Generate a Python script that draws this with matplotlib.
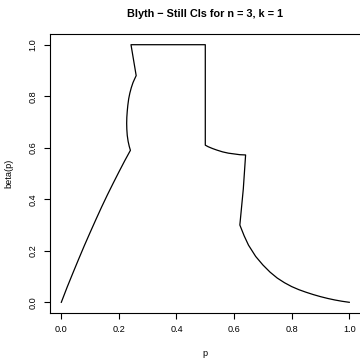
import matplotlib
matplotlib.use("Agg")
import matplotlib.pyplot as plt

plt.rcParams['font.family'] = ['Liberation Sans', 'DejaVu Sans']

title = "Blyth \u2212 Still CIs for n = 3, k = 1"
xlabel = "p"
ylabel = "beta(p)"
tick_vals = [0.0, 0.2, 0.4, 0.6, 0.8, 1.0]
tick_labels = ["0.0", "0.2", "0.4", "0.6", "0.8", "1.0"]

# rising branch
p_a = [0.0, 0.02, 0.04, 0.06, 0.08, 0.10, 0.12, 0.14, 0.16, 0.18, 0.20, 0.22, 0.24]
b_a = [0.0, 0.058, 0.113, 0.167, 0.220, 0.271, 0.321, 0.370, 0.417, 0.462, 0.506, 0.549, 0.590]
# bulging branch up to the kink
p_b = [0.236, 0.232, 0.229, 0.2275, 0.227, 0.2275, 0.229, 0.231, 0.234, 0.238,
       0.243, 0.249, 0.255, 0.260]
b_b = [0.605, 0.625, 0.648, 0.672, 0.695, 0.718, 0.742, 0.765, 0.790, 0.812,
       0.833, 0.853, 0.868, 0.880]
# top plateau and drop
p_c = [0.242, 0.500, 0.500]
b_c = [1.000, 1.000, 0.610]
# shoulder
p_d = [0.51, 0.525, 0.54, 0.56, 0.58, 0.60, 0.62, 0.64]
b_d = [0.604, 0.597, 0.591, 0.584, 0.579, 0.576, 0.573, 0.572]
# steep drop
p_e = [0.632, 0.620]
b_e = [0.440, 0.300]
# decaying tail
p_f = [0.635, 0.65, 0.675, 0.70, 0.725, 0.75, 0.775, 0.80, 0.825, 0.85, 0.875,
       0.90, 0.925, 0.95, 0.975, 1.00]
b_f = [0.258, 0.222, 0.178, 0.145, 0.117, 0.094, 0.076, 0.061, 0.049, 0.039, 0.030,
       0.022, 0.015, 0.009, 0.004, 0.0]

p_all = p_a + p_b + p_c + p_d + p_e + p_f
b_all = b_a + b_b + b_c + b_d + b_e + b_f

fig = plt.figure(figsize=(3.6, 3.58), dpi=100)
ax = fig.add_axes([0.1383, 0.1268, 0.8639, 0.7771])
ax.plot(p_all, b_all, color="black", linewidth=0.9)
ax.set_xlim(-0.04, 1.04)
ax.set_ylim(-0.04, 1.04)
ax.set_xticks(tick_vals)
ax.set_xticklabels(tick_labels)
ax.set_yticks(tick_vals)
ax.set_yticklabels(tick_labels, rotation=90, va="center")
ax.tick_params(axis="both", length=4, width=0.8, labelsize=6.6, pad=5)
for s in ax.spines.values():
    s.set_linewidth(0.8)
ax.set_xlabel(xlabel, fontsize=6.6, labelpad=11)
ax.set_ylabel(ylabel, fontsize=6.6, labelpad=11)
fig.text(0.5703, 1 - 14 / 358, title, ha="center", va="center",
         fontsize=7.8, fontweight="bold")
fig.savefig("out.png", dpi=100)
